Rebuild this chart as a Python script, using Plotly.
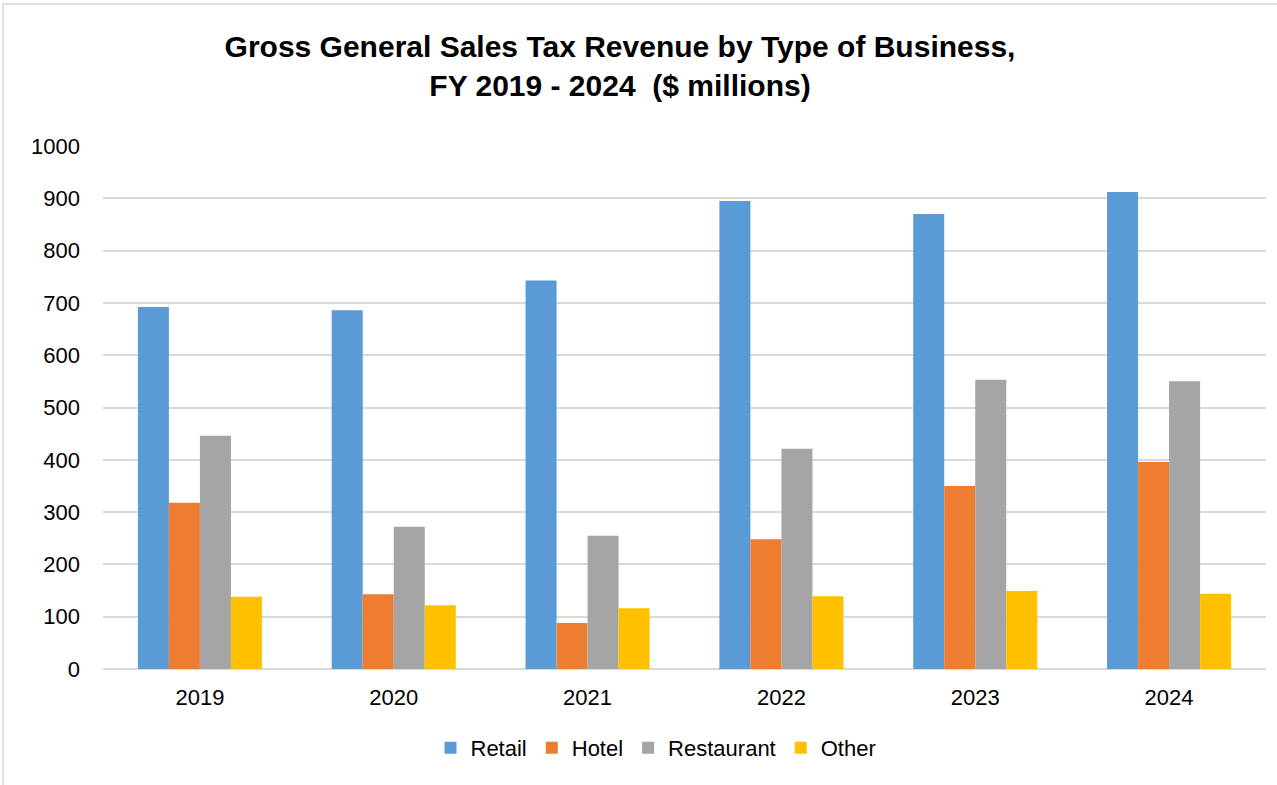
import plotly.graph_objects as go

# Fiscal years and gross sales tax revenue ($ millions) by business type
years = ["2019", "2020", "2021", "2022", "2023", "2024"]
retail = [692, 686, 743, 895, 870, 912]
hotel = [318, 143, 88, 248, 350, 396]
restaurant = [446, 272, 255, 421, 553, 550]
other = [138, 122, 116, 139, 149, 144]

series = [
    ("Retail", retail, "#5B9BD5"),
    ("Hotel", hotel, "#ED7D31"),
    ("Restaurant", restaurant, "#A5A5A5"),
    ("Other", other, "#FFC000"),
]

W, H = 1277, 785
ML, MR, MT, MB = 103, 11, 146, 116
FONT = "Liberation Sans, Arial, sans-serif"

fig = go.Figure()
for name, vals, color in series:
    fig.add_trace(go.Bar(
        x=years, y=vals, name=name,
        marker=dict(color=color, line=dict(width=0)),
    ))

pw = W - ML - MR
ph = H - MT - MB

fig.update_layout(
    width=W, height=H,
    margin=dict(l=ML, r=MR, t=MT, b=MB),
    paper_bgcolor="white", plot_bgcolor="white",
    barmode="group", bargap=0.36, bargroupgap=0,
    font=dict(family=FONT, size=22, color="#000000"),
    title=dict(
        text="Gross General Sales Tax Revenue by Type of Business,<br>FY 2019 - 2024  ($ millions)",
        x=620 / W, xanchor="center", y=1 - 57 / H, yanchor="middle",
        font=dict(size=30, family=FONT, weight="bold", color="#000000"),
    ),
    xaxis=dict(
        showgrid=False, showline=False, ticks="",
        tickfont=dict(size=22), ticklabelstandoff=13,
    ),
    yaxis=dict(
        range=[0, 1000], dtick=100, showgrid=True, gridcolor="#D9D9D9", gridwidth=1.5,
        zeroline=True, zerolinecolor="#D9D9D9", zerolinewidth=1.5,
        showline=False, ticks="", tickfont=dict(size=22), ticklabelstandoff=22,
    ),
    legend=dict(
        orientation="h", xref="container", yref="container",
        x=656 / W, xanchor="center", y=1 - 748 / H, yanchor="middle",
        font=dict(size=22), itemwidth=30, tracegroupgap=0,
    ),
    shapes=[dict(
        type="rect", xref="paper", yref="paper",
        x0=(3 - ML) / pw, x1=(W + 5 - ML) / pw,
        y0=-(H + 5 - MT - ph) / ph, y1=1 + (MT - 4) / ph,
        line=dict(color="#D9D9D9", width=1.5), fillcolor="rgba(0,0,0,0)", layer="below",
    )],
)

fig.write_html("out.html")
